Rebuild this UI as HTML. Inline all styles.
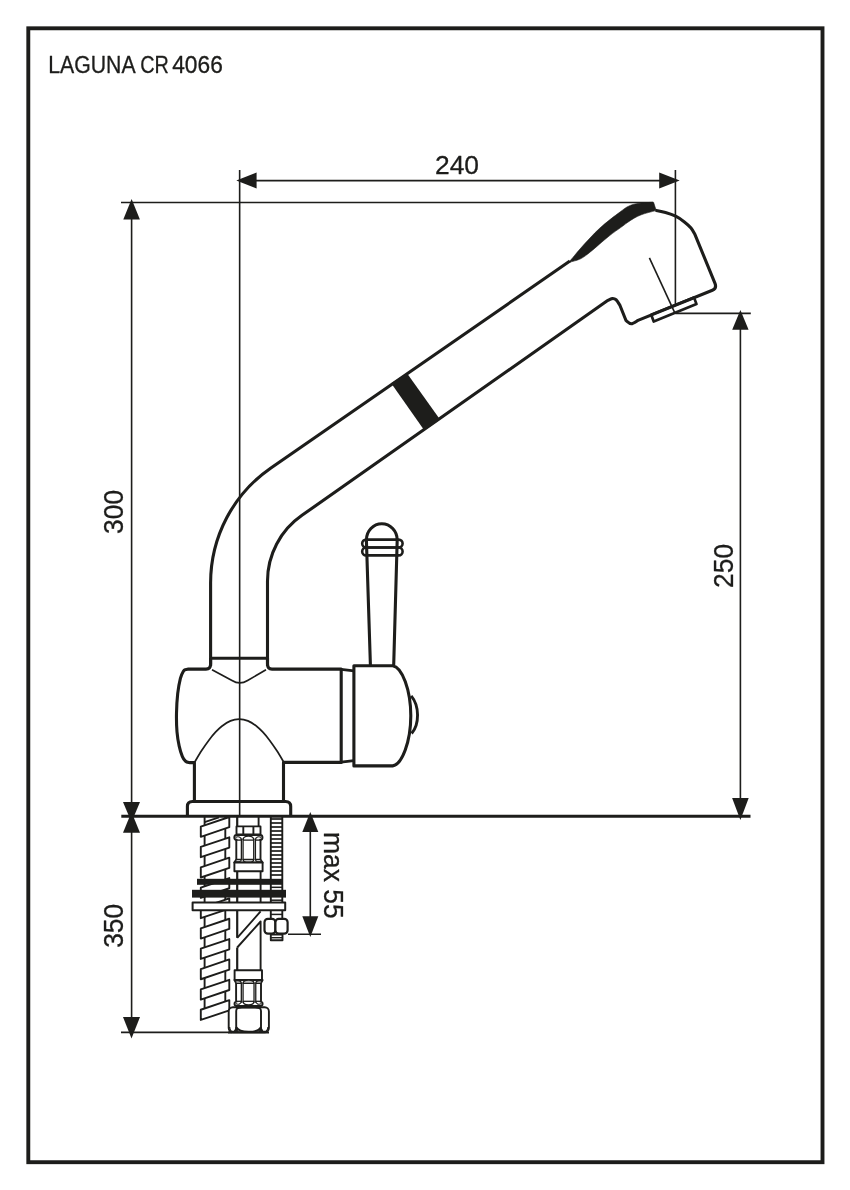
<!DOCTYPE html>
<html><head><meta charset="utf-8"><title>LAGUNA CR 4066</title>
<style>
html,body{margin:0;padding:0;background:#fff;}
body{width:850px;height:1190px;overflow:hidden;position:relative;font-family:"Liberation Sans",sans-serif;}
svg{position:absolute;left:0;top:0;display:block}
svg{will-change:transform}
svg text{font-family:"Liberation Sans",sans-serif;fill:#1d1d1b;stroke:#1d1d1b;stroke-width:0.3px}
</style></head><body>
<svg width="850" height="1190" viewBox="0 0 850 1190" stroke="#1d1d1b" fill="none" stroke-linecap="butt" stroke-linejoin="round">
<rect x="0" y="0" width="850" height="1190" fill="#fff" stroke="none"/>
<rect x="28.3" y="28.3" width="794.2" height="1133.9" fill="none" stroke-width="3.9" stroke-linejoin="miter"/>
<line x1="239.65" y1="170" x2="239.65" y2="816" stroke-width="1.6" />
<line x1="675.4" y1="170" x2="675.4" y2="313.4" stroke-width="1.6" />
<line x1="255" y1="180.6" x2="660" y2="180.6" stroke-width="1.6" />
<polygon points="236.30,180.60 256.60,172.60 256.60,188.60" fill="#1d1d1b" stroke="none" stroke-width="0"/>
<polygon points="679.70,180.60 659.20,172.60 659.20,188.60" fill="#1d1d1b" stroke="none" stroke-width="0"/>
<line x1="121" y1="202.5" x2="653" y2="202.5" stroke-width="1.6" />
<line x1="131.6" y1="210" x2="131.6" y2="1025" stroke-width="1.6" />
<polygon points="131.60,199.10 123.30,219.60 139.90,219.60" fill="#1d1d1b" stroke="none" stroke-width="0"/>
<polygon points="131.50,822.30 123.00,802.10 140.00,802.10" fill="#1d1d1b" stroke="none" stroke-width="0"/>
<polygon points="131.50,812.00 123.00,832.70 140.00,832.70" fill="#1d1d1b" stroke="none" stroke-width="0"/>
<polygon points="131.50,1038.60 123.00,1017.00 140.00,1017.00" fill="#1d1d1b" stroke="none" stroke-width="0"/>
<line x1="121" y1="1032.4" x2="232" y2="1032.4" stroke-width="1.6" />
<line x1="675.4" y1="313.4" x2="750.8" y2="313.4" stroke-width="1.6" />
<line x1="740.4" y1="320" x2="740.4" y2="805" stroke-width="1.6" />
<polygon points="740.40,310.10 732.20,329.70 748.60,329.70" fill="#1d1d1b" stroke="none" stroke-width="0"/>
<polygon points="740.40,819.90 732.10,798.10 748.70,798.10" fill="#1d1d1b" stroke="none" stroke-width="0"/>
<line x1="310.3" y1="825" x2="310.3" y2="925" stroke-width="1.6" />
<polygon points="310.30,812.00 302.30,832.00 318.30,832.00" fill="#1d1d1b" stroke="none" stroke-width="0"/>
<polygon points="310.30,937.00 302.30,916.20 318.30,916.20" fill="#1d1d1b" stroke="none" stroke-width="0"/>
<line x1="288" y1="934.3" x2="321" y2="934.3" stroke-width="1.6" />
<line x1="121.3" y1="816.3" x2="750.5" y2="816.3" stroke-width="3.0" />
<polygon points="651.20,314.80 694.00,297.40 696.50,304.10 653.70,321.50" fill="#fff" stroke="#1d1d1b" stroke-width="2.7"/>
<path d="M210.6 666 L210.6 583 A140 140 0 0 1 270.9 467.9 L569.9 261.1" stroke-width="3.1" fill="none" />
<path d="M267.5 666 L267.5 581 A80 80 0 0 1 302 515.3 L607.6 300.6 C608.37 300.27 610.78 298.73 612.20 298.60 C613.62 298.47 614.82 298.70 616.10 299.80 C617.38 300.90 619.27 304.30 619.90 305.20 L626 320.5 C626.88 321.05 629.30 323.82 631.30 323.80 C633.30 323.78 636.88 320.97 638.00 320.40 L712.4 290.2 Q716.9 288.4 715.0 283.4 L695 234.6 C694.33 233.50 692.77 230.12 691.00 228.00 C689.23 225.88 686.97 223.87 684.40 221.90 C681.83 219.93 678.75 217.77 675.60 216.20 C672.45 214.63 668.83 213.48 665.50 212.50 C662.17 211.52 657.25 210.67 655.60 210.30" stroke-width="3.1" fill="none" />
<line x1="210.6" y1="658.2" x2="267.5" y2="658.2" stroke-width="3.1" />
<path d="M569.90 261.10 C571.58 259.08 576.65 252.85 580.00 249.00 C583.35 245.15 586.77 241.42 590.00 238.00 C593.23 234.58 596.07 231.57 599.40 228.50 C602.73 225.43 606.47 222.42 610.00 219.60 C613.53 216.78 617.77 213.70 620.60 211.60 C623.43 209.50 624.77 208.23 627.00 207.00 C629.23 205.77 631.17 204.90 634.00 204.20 C636.83 203.50 640.73 203.12 644.00 202.80 C647.27 202.48 652.00 202.38 653.60 202.30 L656.2 210.6 C654.87 210.93 650.70 211.90 648.20 212.60 C645.70 213.30 643.55 213.87 641.20 214.80 C638.85 215.73 636.45 216.87 634.10 218.20 C631.75 219.53 629.35 221.23 627.10 222.80 C624.85 224.37 623.45 225.52 620.60 227.60 C617.75 229.68 613.53 232.53 610.00 235.30 C606.47 238.07 602.73 241.38 599.40 244.20 C596.07 247.02 593.13 249.77 590.00 252.20 C586.87 254.63 583.95 257.13 580.60 258.80 C577.25 260.47 571.68 261.63 569.90 262.20 Z" stroke-width="0.6" fill="#1d1d1b" />
<line x1="649.4" y1="257.8" x2="674.6" y2="312.4" stroke-width="1.6" />
<polygon points="391.20,383.20 407.00,373.20 440.00,419.60 424.20,430.20" fill="#1d1d1b" stroke="none" stroke-width="0"/>
<path d="M210.6 658 L210.6 664 C210.6 667.5 209 669.1 206 669.1 L188 669.1 C187.60 669.18 186.37 669.25 185.60 669.60 C184.83 669.95 184.27 669.73 183.40 671.20 C182.53 672.67 181.35 674.65 180.40 678.40 C179.45 682.15 178.35 687.88 177.70 693.70 C177.05 699.52 176.62 706.93 176.50 713.30 C176.38 719.67 176.55 726.43 177.00 731.90 C177.45 737.37 178.30 741.98 179.20 746.10 C180.10 750.22 181.33 754.08 182.40 756.60 C183.47 759.12 184.42 760.20 185.60 761.20 C186.78 762.20 188.85 762.37 189.50 762.60 L194.4 762.6 L194.4 801.5" stroke-width="3.1" fill="none" />
<path d="M267.5 658 L267.5 664 C267.5 667.5 269 669.1 272 669.1 L341.2 669.1 L341.2 762.4 L283.5 762.4 L283.5 801.5" stroke-width="3.1" fill="none" />
<path d="M341.2 669.4 L353.9 670.9 M341.2 762.1 L353.9 760.6" stroke-width="2.6" fill="none" />
<path d="M212 669.8 L232 680.5 C237 683.6 242.6 683.6 247.6 680.5 L266 669.8" stroke-width="1.7" fill="none" />
<path d="M194.60 762.20 C195.75 760.30 199.15 754.43 201.50 750.80 C203.85 747.17 206.37 743.50 208.70 740.40 C211.03 737.30 213.32 734.57 215.50 732.20 C217.68 729.83 219.30 728.08 221.80 726.20 C224.30 724.32 227.60 722.07 230.50 720.90 C233.40 719.73 236.30 719.20 239.20 719.20 C242.10 719.20 245.00 719.73 247.90 720.90 C250.80 722.07 254.10 724.32 256.60 726.20 C259.10 728.08 260.72 729.83 262.90 732.20 C265.08 734.57 267.37 737.30 269.70 740.40 C272.03 743.50 274.55 747.17 276.90 750.80 C279.25 754.43 282.65 760.30 283.80 762.20" stroke-width="1.7" fill="none" />
<path d="M353.9 665.7 L392.7 665.7 C402 667 410.8 690 410.8 715.8 C410.8 741.5 402 764.6 392.7 765.9 L353.9 765.9 Z" stroke-width="3.1" fill="none" />
<path d="M411.2 695.8 C419.6 706 419.6 724 411.6 733.5" stroke-width="2.9" fill="none" />
<path d="M370.4 665 L366.4 540 M393.7 665 L397.2 540" stroke-width="3.1" fill="none" />
<path d="M366.4 540 A15.4 16.2 0 0 1 397.2 540" stroke-width="3.1" fill="none" />
<rect x="362.2" y="539.6" width="40.4" height="7.9" rx="3.9" fill="none" stroke-width="2.6"/>
<rect x="362.2" y="547.5" width="40.4" height="7.9" rx="3.9" fill="none" stroke-width="2.6"/>
<path d="M187.4 816 L187.4 806.5 C187.4 803 189 801.5 192.5 801.5 L285.5 801.5 C289 801.5 290.7 803 290.7 806.5 L290.7 816" stroke-width="3.1" fill="none" />
<line x1="204.6" y1="817" x2="204.6" y2="1015" stroke-width="1.9" />
<line x1="225.3" y1="817" x2="225.3" y2="1010" stroke-width="1.9" />
<polygon points="200.80,826.60 229.30,817.00 229.30,827.20 200.80,836.80" fill="#fff" stroke="#1d1d1b" stroke-width="1.9"/>
<polygon points="200.80,846.95 229.30,837.35 229.30,847.55 200.80,857.15" fill="#fff" stroke="#1d1d1b" stroke-width="1.9"/>
<polygon points="200.80,867.30 229.30,857.70 229.30,867.90 200.80,877.50" fill="#fff" stroke="#1d1d1b" stroke-width="1.9"/>
<polygon points="200.80,887.65 229.30,878.05 229.30,888.25 200.80,897.85" fill="#fff" stroke="#1d1d1b" stroke-width="1.9"/>
<polygon points="200.80,908.00 229.30,898.40 229.30,908.60 200.80,918.20" fill="#fff" stroke="#1d1d1b" stroke-width="1.9"/>
<polygon points="200.80,928.35 229.30,918.75 229.30,928.95 200.80,938.55" fill="#fff" stroke="#1d1d1b" stroke-width="1.9"/>
<polygon points="200.80,948.70 229.30,939.10 229.30,949.30 200.80,958.90" fill="#fff" stroke="#1d1d1b" stroke-width="1.9"/>
<polygon points="200.80,969.05 229.30,959.45 229.30,969.65 200.80,979.25" fill="#fff" stroke="#1d1d1b" stroke-width="1.9"/>
<polygon points="200.80,989.40 229.30,979.80 229.30,990.00 200.80,999.60" fill="#fff" stroke="#1d1d1b" stroke-width="1.9"/>
<polygon points="200.80,1009.75 229.30,1000.15 229.30,1010.35 200.80,1019.95" fill="#fff" stroke="#1d1d1b" stroke-width="1.9"/>
<path d="M204.6 822.2 L219 817.3" stroke-width="1.9" fill="none" />
<line x1="237.2" y1="817" x2="237.2" y2="937.8" stroke-width="2.2" />
<line x1="237.2" y1="947.5" x2="237.2" y2="1008" stroke-width="2.2" />
<line x1="258.6" y1="817" x2="258.6" y2="826.5" stroke-width="1.9" />
<rect x="236.5" y="826.4" width="24" height="8.0" rx="0" fill="#fff" stroke-width="1.9"/>
<line x1="243.3" y1="826.4" x2="243.3" y2="834.4" stroke-width="1.9" />
<line x1="253.4" y1="826.4" x2="253.4" y2="834.4" stroke-width="1.9" />
<path d="M236.3 859.6 L236.3 839.8 L236.70000000000002 839.8 A2.4 2.4 0 0 1 236.70000000000002 835.0 L260.1 835.0 A2.4 2.4 0 0 1 260.1 839.8 L260.5 839.8 L260.5 859.6 L262.5 862.6 L234.3 862.6 Z" stroke-width="1.9" fill="#fff" />
<line x1="241.382" y1="838.5999999999999" x2="241.382" y2="860.1" stroke-width="1.3" />
<line x1="243.07600000000002" y1="838.5999999999999" x2="243.07600000000002" y2="860.1" stroke-width="1.3" />
<line x1="253.724" y1="838.5999999999999" x2="253.724" y2="860.1" stroke-width="1.3" />
<line x1="255.418" y1="838.5999999999999" x2="255.418" y2="860.1" stroke-width="1.3" />
<line x1="236.3" y1="840.0999999999999" x2="241.382" y2="840.0999999999999" stroke-width="1.3" />
<line x1="243.07600000000002" y1="840.0999999999999" x2="253.724" y2="840.0999999999999" stroke-width="1.3" />
<line x1="255.418" y1="840.0999999999999" x2="260.5" y2="840.0999999999999" stroke-width="1.3" />
<path d="M243.07600000000002 840.0999999999999 C243.07600000000002 834.9 253.724 834.9 253.724 840.0999999999999" stroke-width="1.3" fill="none" />
<path d="M241.382 840.0999999999999 C241.382 836.6 237.8 836.2 235.5 837.4" stroke-width="1.2" fill="none" />
<path d="M255.418 840.0999999999999 C255.418 836.6 259.0 836.2 261.3 837.4" stroke-width="1.2" fill="none" />
<path d="M243.07600000000002 859.3000000000001 L253.724 859.3000000000001 C253.724 863.6 243.07600000000002 863.6 243.07600000000002 859.3000000000001 Z" stroke-width="1.3" fill="#bdbdbc" />
<path d="M236.3 859.3000000000001 L241.382 859.3000000000001 C241.382 862.0 238.3 862.3000000000001 235.10000000000002 861.7 L236.3 859.6 Z" stroke-width="1.2" fill="#bdbdbc" />
<path d="M260.5 859.3000000000001 L255.418 859.3000000000001 C255.418 862.0 258.5 862.3000000000001 261.7 861.7 L260.5 859.6 Z" stroke-width="1.2" fill="#bdbdbc" />
<rect x="234.4" y="862.5" width="28.2" height="8.7" rx="0" fill="#fff" stroke-width="1.9"/>
<line x1="260.6" y1="871.4" x2="260.6" y2="902" stroke-width="1.9" />
<line x1="270.8" y1="817" x2="270.8" y2="918" stroke-width="1.9" />
<line x1="282.3" y1="817" x2="282.3" y2="918" stroke-width="1.9" />
<line x1="270.8" y1="819.0" x2="282.3" y2="819.0" stroke-width="1.7" />
<line x1="270.8" y1="823.0" x2="282.3" y2="823.0" stroke-width="1.7" />
<line x1="270.8" y1="827.0" x2="282.3" y2="827.0" stroke-width="1.7" />
<line x1="270.8" y1="831.0" x2="282.3" y2="831.0" stroke-width="1.7" />
<line x1="270.8" y1="835.0" x2="282.3" y2="835.0" stroke-width="1.7" />
<line x1="270.8" y1="839.0" x2="282.3" y2="839.0" stroke-width="1.7" />
<line x1="270.8" y1="843.0" x2="282.3" y2="843.0" stroke-width="1.7" />
<line x1="270.8" y1="847.0" x2="282.3" y2="847.0" stroke-width="1.7" />
<line x1="270.8" y1="851.0" x2="282.3" y2="851.0" stroke-width="1.7" />
<line x1="270.8" y1="855.0" x2="282.3" y2="855.0" stroke-width="1.7" />
<line x1="270.8" y1="859.0" x2="282.3" y2="859.0" stroke-width="1.7" />
<line x1="270.8" y1="863.0" x2="282.3" y2="863.0" stroke-width="1.7" />
<line x1="270.8" y1="867.0" x2="282.3" y2="867.0" stroke-width="1.7" />
<line x1="270.8" y1="871.0" x2="282.3" y2="871.0" stroke-width="1.7" />
<line x1="270.8" y1="875.0" x2="282.3" y2="875.0" stroke-width="1.7" />
<line x1="270.8" y1="887.3" x2="282.3" y2="887.3" stroke-width="1.5" />
<line x1="270.8" y1="900.2" x2="282.3" y2="900.2" stroke-width="1.5" />
<line x1="270.8" y1="914.4" x2="282.3" y2="914.4" stroke-width="1.5" />
<rect x="197" y="878.8" width="85.4" height="6" fill="#1d1d1b" stroke="none"/>
<rect x="192" y="889.8" width="94" height="7.8" fill="#1d1d1b" stroke="none"/>
<rect x="192.6" y="902.4" width="92.6" height="7.9" rx="0" fill="#fff" stroke-width="2"/>
<path d="M237.2 937.8 L260.6 911.4 M237.2 947.5 L260.6 921.5 L260.6 970.4" stroke-width="1.9" fill="none" />
<rect x="264.5" y="918.8" width="10.9" height="14.9" rx="3.4" fill="#fff" stroke-width="2.2"/>
<rect x="275.4" y="918.8" width="12.2" height="14.9" rx="3.4" fill="#fff" stroke-width="2.2"/>
<rect x="270.8" y="934.6" width="11.7" height="5.6" rx="0" fill="#fff" stroke-width="1.9"/>
<line x1="270.8" y1="937.7" x2="282.5" y2="937.7" stroke-width="1.4" />
<rect x="234.6" y="970.3" width="27.4" height="9.6" rx="0" fill="#fff" stroke-width="1.9"/>
<g transform="translate(0,1986.0) scale(1,-1)">
<path d="M236.1 1003.0 L236.1 984.4 L236.7 984.4 A2.2 2.2 0 0 1 236.7 980.0 L260.40000000000003 980.0 A2.2 2.2 0 0 1 260.40000000000003 984.4 L261.0 984.4 L261.0 1003.0 L262.6 1006.0 L234.5 1006.0 Z" stroke-width="1.9" fill="#fff" />
<line x1="241.329" y1="983.1999999999999" x2="241.329" y2="1003.5" stroke-width="1.3" />
<line x1="243.072" y1="983.1999999999999" x2="243.072" y2="1003.5" stroke-width="1.3" />
<line x1="254.028" y1="983.1999999999999" x2="254.028" y2="1003.5" stroke-width="1.3" />
<line x1="255.771" y1="983.1999999999999" x2="255.771" y2="1003.5" stroke-width="1.3" />
<line x1="236.1" y1="984.6999999999999" x2="241.329" y2="984.6999999999999" stroke-width="1.3" />
<line x1="243.072" y1="984.6999999999999" x2="254.028" y2="984.6999999999999" stroke-width="1.3" />
<line x1="255.771" y1="984.6999999999999" x2="261.0" y2="984.6999999999999" stroke-width="1.3" />
<path d="M243.072 984.6999999999999 C243.072 979.9 254.028 979.9 254.028 984.6999999999999" stroke-width="1.3" fill="none" />
<path d="M241.329 984.6999999999999 C241.329 981.6 237.6 981.2 235.7 982.4" stroke-width="1.2" fill="none" />
<path d="M255.771 984.6999999999999 C255.771 981.6 259.5 981.2 261.40000000000003 982.4" stroke-width="1.2" fill="none" />
<path d="M243.072 1002.7 L254.028 1002.7 C254.028 1007.0 243.072 1007.0 243.072 1002.7 Z" stroke-width="1.3" fill="#bdbdbc" />
<path d="M236.1 1002.7 L241.329 1002.7 C241.329 1005.4 238.1 1005.7 235.3 1005.1 L236.1 1003.0 Z" stroke-width="1.2" fill="#bdbdbc" />
<path d="M261.0 1002.7 L255.771 1002.7 C255.771 1005.4 259.0 1005.7 261.8 1005.1 L261.0 1003.0 Z" stroke-width="1.2" fill="#bdbdbc" />
</g>
<rect x="228.7" y="1007.3" width="40.2" height="25.0" rx="4.2" fill="#fff" stroke-width="1.9"/>
<path d="M236.2 1011 C236.2 1007.6 238 1007.6 242 1007.6 L255 1007.6 C259 1007.6 261 1007.6 261 1011 L261 1027 C258 1033.4 239.2 1033.4 236.2 1027 Z" stroke-width="1.9" fill="none" />
<path d="M229.6 1027 C230.2 1033 235.6 1033 236.2 1027 M261 1027 C261.6 1033 267.4 1033 268 1027" stroke-width="1.3" fill="none" />
<path d="M236.2 1027 L234.4 1031.6 L238.2 1031.6 Z M261 1027 L259 1031.6 L262.8 1031.6 Z" stroke-width="0.8" fill="#1d1d1b" />
<line x1="228" y1="1032.4" x2="269" y2="1032.4" stroke-width="2.0" />
<text y="73.3" font-size="23"><tspan x="48.2" textLength="86.2" lengthAdjust="spacingAndGlyphs">LAGUNA</tspan> <tspan x="140.2" textLength="28.6" lengthAdjust="spacingAndGlyphs">CR</tspan> <tspan x="172.2" textLength="50.6" lengthAdjust="spacingAndGlyphs">4066</tspan></text>
<text x="457" y="174.1" font-size="26.4" text-anchor="middle">240</text>
<text transform="translate(123,511.9) rotate(-90) scale(1,1.035)" font-size="26.4" text-anchor="middle">300</text>
<text transform="translate(123,925.8) rotate(-90) scale(1,1.035)" font-size="26.4" text-anchor="middle">350</text>
<text transform="translate(732.5,565.9) rotate(-90) scale(1,1.035)" font-size="26.4" text-anchor="middle">250</text>
<text transform="translate(324,875.3) rotate(90) scale(1,1.035)" font-size="26.4" text-anchor="middle">max 55</text>
</svg>
</body></html>
